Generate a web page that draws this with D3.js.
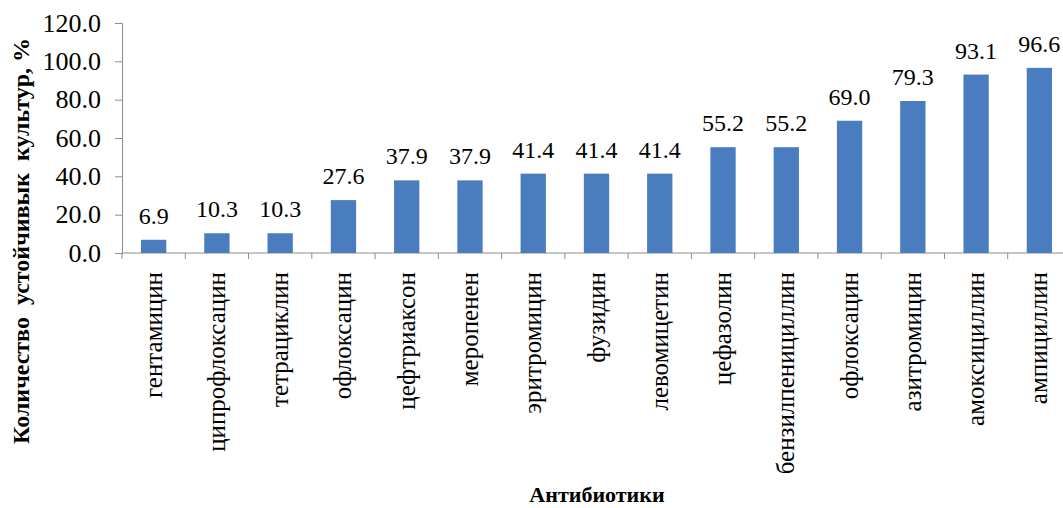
<!DOCTYPE html>
<html>
<head>
<meta charset="utf-8">
<script src="https://cdn.jsdelivr.net/npm/d3@7"></script>
<style>
  body { margin: 0; background: #fff; }
  text { font-family: "Liberation Serif", "Times New Roman", serif; fill: #000; }
</style>
</head>
<body>
<div id="chart-area"></div>
<script>
// data
var antibiotics = ["гентамицин", "ципрофлоксацин", "тетрациклин", "офлоксацин", "цефтриаксон",
  "меропенен", "эритромицин", "фузидин", "левомицетин", "цефазолин",
  "бензилпенициллин", "офлоксацин", "азитромицин", "амоксициллин", "ампициллин"];
var resistant = [6.9, 10.3, 10.3, 27.6, 37.9, 37.9, 41.4, 41.4, 41.4, 55.2, 55.2, 69.0, 79.3, 93.1, 96.6];
var yTicks = [0, 20, 40, 60, 80, 100, 120];

var serif = "'Liberation Serif', 'Times New Roman', serif";

//svg area
var svg_x = 1063;
var svg_y = 508;

var margin = {left:122, top:23};
var plotW = 949; // runs a bit past the right edge, like the original crop
var plotH = 230;

var svg = d3.select("#chart-area")
  .append("svg")
    .attr("width", svg_x)
    .attr("height", svg_y)
    .attr("font-family", serif);

var g = svg.append("g")
  .attr("transform", "translate(" + margin.left + "," + margin.top + ")");

// band per category, index keys because "офлоксацин" shows up twice
var x = d3.scaleBand()
  .domain(d3.range(antibiotics.length))
  .range([0, plotW])
  .paddingInner(0.6)
  .paddingOuter(0.3);
var y = d3.scaleLinear()
  .domain([0, 120])
  .range([plotH, 0]);

// y axis
var yAxisCall = d3.axisLeft(y)
  .tickValues(yTicks)
  .tickSize(7)
  .tickPadding(14)
  .tickFormat(d3.format(".1f"));
var yAxis = g.append("g").call(yAxisCall)
  .attr("font-family", serif)
  .attr("font-size", 26);
yAxis.select(".domain").attr("stroke", "#8c8c8c");
yAxis.selectAll(".tick line").attr("stroke", "#8c8c8c");

// x axis: ticks between the categories
var step = x.step();
var xAxisG = g.append("g").attr("transform", "translate(0," + plotH + ")");
xAxisG.append("line")
  .attr("x1", 0).attr("x2", plotW)
  .attr("stroke", "#8c8c8c");
xAxisG.selectAll(".sep")
  .data(d3.range(antibiotics.length + 1))
  .enter().append("line")
    .attr("class", "sep")
    .attr("x1", d => d * step).attr("x2", d => d * step)
    .attr("y1", 0).attr("y2", 6)
    .attr("stroke", "#8c8c8c");

// category labels, rotated
xAxisG.selectAll(".cat")
  .data(antibiotics)
  .enter().append("text")
    .attr("class", "cat")
    .attr("transform", (d, i) => "translate(" + (x(i) + x.bandwidth() / 2 + 8) + ",19) rotate(-90)")
    .attr("text-anchor", "end")
    .attr("font-size", 25)
    .text(d => d);

// bars
g.selectAll("rect")
  .data(resistant)
  .enter().append("rect")
    .attr("x", (d, i) => x(i))
    .attr("y", d => y(d))
    .attr("width", x.bandwidth())
    .attr("height", d => plotH - y(d))
    .attr("fill", "#4a7dbf");

// value labels
g.selectAll(".val")
  .data(resistant)
  .enter().append("text")
    .attr("class", "val")
    .attr("x", (d, i) => x(i) + x.bandwidth() / 2)
    .attr("y", d => y(d) - 16)
    .attr("text-anchor", "middle")
    .attr("font-size", 24)
    .text(d => d3.format(".1f")(d));

// axis titles
svg.append("text")
  .attr("transform", "translate(29,241) rotate(-90)")
  .attr("text-anchor", "middle")
  .attr("font-size", 24)
  .attr("font-weight", "bold")
  .style("white-space", "pre")
  .text("Количество  устойчивык  культур, %");

svg.append("text")
  .attr("x", 597)
  .attr("y", 502)
  .attr("text-anchor", "middle")
  .attr("font-size", 22)
  .attr("font-weight", "bold")
  .text("Антибиотики");
</script>
</body>
</html>
